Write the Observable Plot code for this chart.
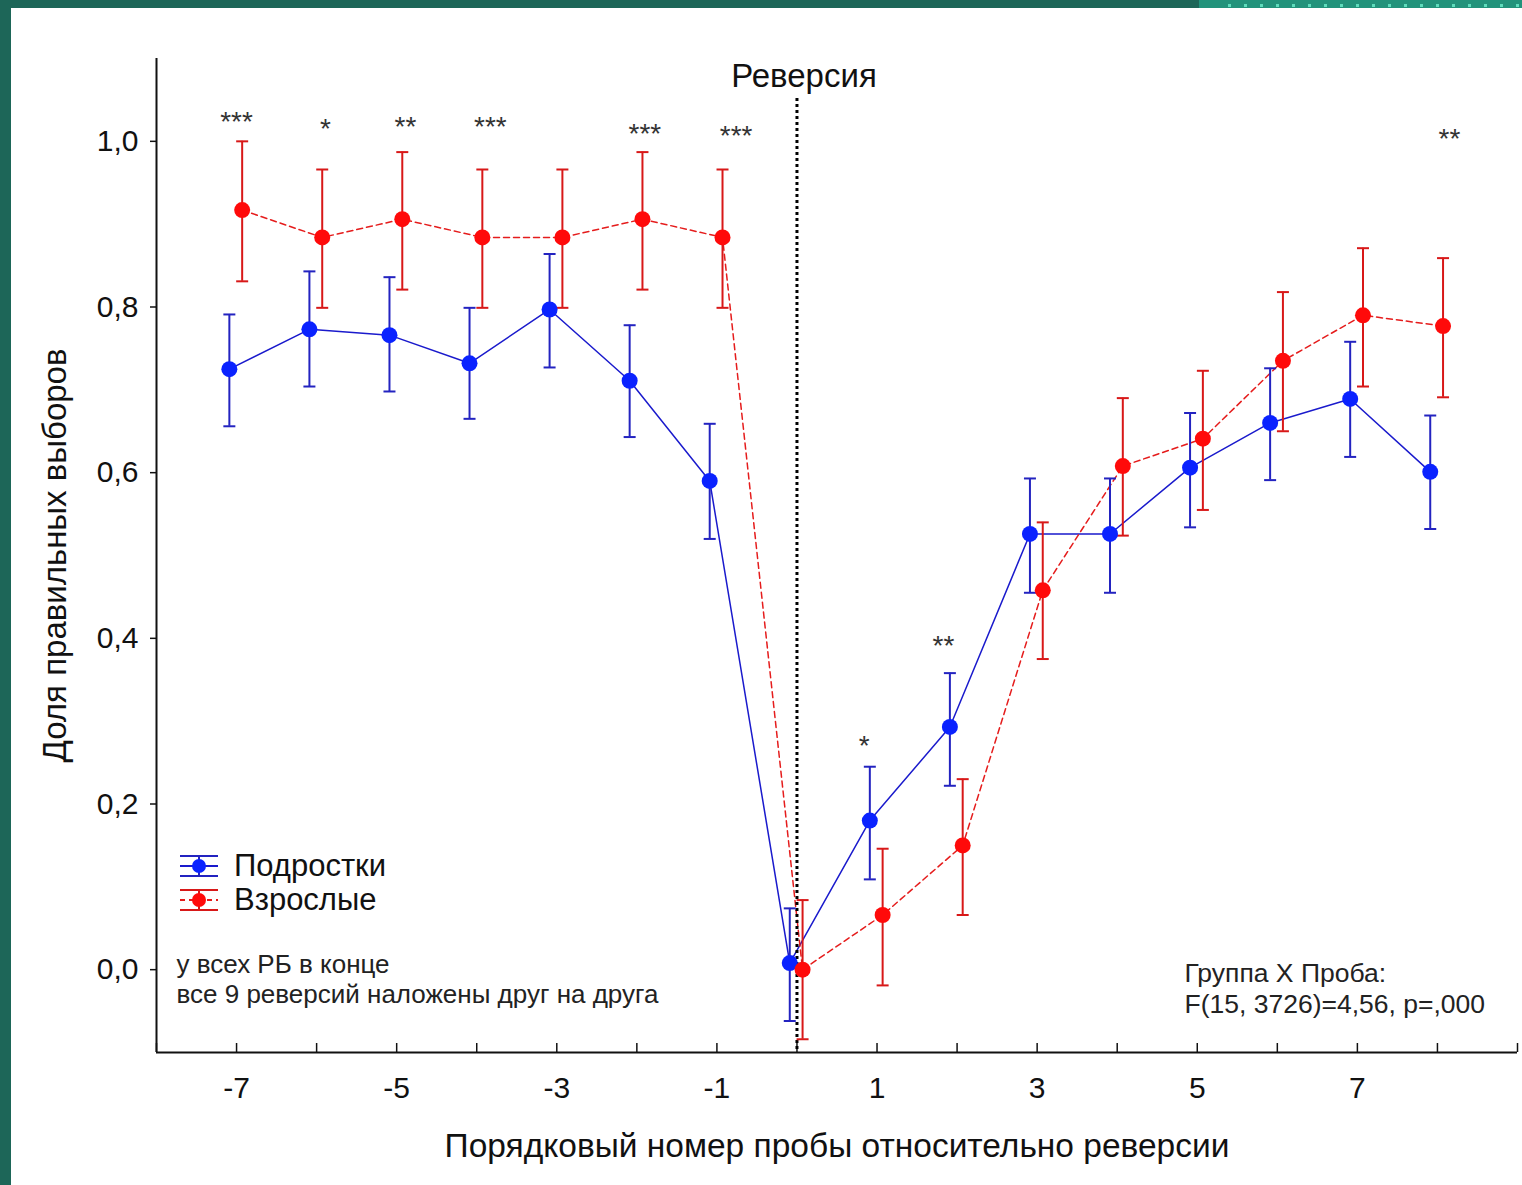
<!DOCTYPE html>
<html><head><meta charset="utf-8">
<script src="https://cdn.jsdelivr.net/npm/d3@7"></script>
<script src="https://cdn.jsdelivr.net/npm/@observablehq/plot@0.6"></script>
<style>
html,body{margin:0;padding:0;}
body{background:#1d6658;width:1522px;height:1185px;overflow:hidden;position:relative;font-family:"Liberation Sans",Arial,sans-serif;}
#panel{position:absolute;left:11px;top:8px;right:0;bottom:0;background:#fff;}
#strip{position:absolute;left:1199px;top:0;width:323px;height:8px;background:#22937b;}
#strip2{position:absolute;left:1228px;top:4px;width:294px;height:3px;
  background-image:linear-gradient(to right,#5fdcbc 3px,transparent 3px);background-size:16px 3px;background-repeat:repeat-x;}
#chart{position:absolute;left:0;top:0;}
#legend{position:absolute;left:0;top:0;pointer-events:none;}
</style>
</head><body>
<div id="panel"></div><div id="strip"></div><div id="strip2"></div>
<div id="chart"></div>
<svg id="legend" width="1522" height="1185"></svg>
<script>
// ---- data ----
const trials = [-7,-6,-5,-4,-3,-2,-1,0,1,2,3,4,5,6,7,8];
const teenMean = [0.725,0.773,0.766,0.732,0.797,0.711,0.590,0.008,0.180,0.293,0.526,0.526,0.606,0.660,0.689,0.601];
const teenLow  = [0.656,0.704,0.698,0.665,0.727,0.643,0.520,-0.062,0.109,0.222,0.455,0.455,0.534,0.591,0.619,0.532];
const teenHigh = [0.791,0.843,0.836,0.799,0.864,0.778,0.659,0.074,0.245,0.358,0.593,0.593,0.672,0.726,0.758,0.669];
const adultMean = [0.917,0.884,0.906,0.884,0.884,0.906,0.884,0.000,0.066,0.150,0.458,0.608,0.641,0.735,0.790,0.777];
const adultLow  = [0.831,0.799,0.821,0.799,0.799,0.821,0.799,-0.084,-0.019,0.066,0.375,0.524,0.555,0.650,0.704,0.691];
const adultHigh = [1.000,0.966,0.987,0.966,0.966,0.987,0.966,0.084,0.146,0.230,0.540,0.690,0.723,0.818,0.871,0.859];
const seriesNames = ["Подростки","Взрослые"];
const sigX = [-7,-5.89,-4.89,-3.83,-1.9,-0.76,0.84,1.83,8.15];
const sigY = [1.028,1.020,1.022,1.022,1.014,1.011,0.275,0.396,1.008];
const sigLabels = ["***","*","**","***","***","***","*","**","**"];
const xDomain = [-8, 9];
const yDomain = [-0.1, 1.1];
const xTickValues = [-8,-7,-6,-5,-4,-3,-2,-1,0,1,2,3,4,5,6,7,8,9];
const xTickLabels = [-7,-5,-3,-1,1,3,5,7];
const yTickValues = [0,0.2,0.4,0.6,0.8,1.0];
const xTitle = "Порядковый номер пробы относительно реверсии";
const yTitle = "Доля правильных выборов";
const reversalLabel = "Реверсия";
const noteLeft = "у всех РБ в конце\nвсе 9 реверсий наложены друг на друга";
const noteRight = "Группа X Проба:\nF(15, 3726)=4,56, p=,000";

// ---- styles ----
const FONT = '"Liberation Sans", Arial, sans-serif';
const blueDot = "#0a22ff", blueLine = "#1a1acc", blueErr = "#2323c0";
const redDot = "#ff0a0a", redLine = "#e51c1c", redErr = "#d81818";
const blueOffset = -0.09, redOffset = 0.07;
const W = 1522, H = 1185, mL = 156, mR = 5, mT = 58, mB = 133;
const frameH = H - mT - mB;

const teen = trials.map((t,i)=>({x:t+blueOffset, y:teenMean[i], lo:teenLow[i], hi:teenHigh[i]}));
const adult = trials.map((t,i)=>({x:t+redOffset, y:adultMean[i], lo:adultLow[i], hi:adultHigh[i]}));
const sig = sigX.map((x,i)=>({x, y:sigY[i], t:sigLabels[i]}));
const capSymbol = {draw(ctx, size){const r = Math.sqrt(size/Math.PI); ctx.moveTo(-r,0); ctx.lineTo(r,0);}};
const fmt = d => d3.format(".1f")(d).replace(".", ",");

const chart = Plot.plot({
  width: W, height: H,
  marginLeft: mL, marginRight: mR, marginTop: mT, marginBottom: mB,
  x: {domain: xDomain},
  y: {domain: yDomain},
  style: {fontFamily: FONT, background: "transparent", overflow: "visible", color: "#111"},
  marks: [
    Plot.axisY({ticks: yTickValues, tickFormat: fmt, tickSize: 6, tickPadding: 12, fontSize: 30, label: null, stroke: "#111", strokeWidth: 1.5}),
    Plot.axisX({ticks: xTickLabels, tickFormat: d => String(d), tickSize: 0, tickPadding: 24, fontSize: 30, label: null}),
    Plot.tickX(xTickValues, {x: d => d, insetTop: frameH - 9, stroke: "#111", strokeWidth: 1.5}),
    Plot.ruleX([xDomain[0]], {stroke: "#111", strokeWidth: 2}),
    Plot.ruleY([yDomain[0]], {stroke: "#111", strokeWidth: 2}),
    Plot.text([yTitle], {frameAnchor: "left", textAnchor: "middle", dx: -101, rotate: -90, fontSize: 33, fill: "#111"}),
    Plot.text([xTitle], {frameAnchor: "bottom", textAnchor: "middle", dy: 104, fontSize: 33.5, fill: "#111"}),
    Plot.text([reversalLabel], {x: 0, frameAnchor: "top", dx: 7, dy: 5, fontSize: 33, fill: "#111"}),
    Plot.text([noteLeft], {frameAnchor: "bottom-left", dx: 20, dy: -50, textAnchor: "start", lineAnchor: "bottom", fontSize: 26, lineHeight: 1.15, fill: "#222"}),
    Plot.text([noteRight], {frameAnchor: "bottom-right", dx: -333, dy: -40, textAnchor: "start", lineAnchor: "bottom", fontSize: 26.5, lineHeight: 1.15, fill: "#222"}),
    Plot.line(teen, {x: "x", y: "y", stroke: blueLine, strokeWidth: 1.5}),
    Plot.line(adult, {x: "x", y: "y", stroke: redLine, strokeWidth: 1.5, strokeDasharray: "6,4"}),
    Plot.ruleX([0], {insetTop: 40, stroke: "#000", strokeWidth: 3, strokeDasharray: "3,3"}),
    Plot.ruleX(teen, {x: "x", y1: "lo", y2: "hi", stroke: blueErr, strokeWidth: 2}),
    Plot.dot(teen, {x: "x", y: "lo", symbol: capSymbol, r: 6, stroke: blueErr, strokeWidth: 2, fill: "none"}),
    Plot.dot(teen, {x: "x", y: "hi", symbol: capSymbol, r: 6, stroke: blueErr, strokeWidth: 2, fill: "none"}),
    Plot.ruleX(adult, {x: "x", y1: "lo", y2: "hi", stroke: redErr, strokeWidth: 2}),
    Plot.dot(adult, {x: "x", y: "lo", symbol: capSymbol, r: 6, stroke: redErr, strokeWidth: 2, fill: "none"}),
    Plot.dot(adult, {x: "x", y: "hi", symbol: capSymbol, r: 6, stroke: redErr, strokeWidth: 2, fill: "none"}),
    Plot.dot(teen, {x: "x", y: "y", r: 8, fill: blueDot}),
    Plot.dot(adult, {x: "x", y: "y", r: 8, fill: redDot}),
    Plot.text(sig, {x: "x", y: "y", text: "t", fontSize: 28, fill: "#333", dy: 4})
  ]
});
document.getElementById("chart").appendChild(chart);

// ---- legend ----
const lg = d3.select("#legend");
const entries = [
  {name: seriesNames[0], cy: 866, dot: blueDot, line: blueLine, err: blueErr, dash: null},
  {name: seriesNames[1], cy: 900, dot: redDot, line: redLine, err: redErr, dash: "5,4"}
];
for (const e of entries) {
  const g = lg.append("g");
  g.append("line").attr("x1",180).attr("x2",218).attr("y1",e.cy).attr("y2",e.cy).attr("stroke",e.line).attr("stroke-width",2).attr("stroke-dasharray",e.dash);
  for (const dy of [-10,10]) g.append("line").attr("x1",180).attr("x2",218).attr("y1",e.cy+dy).attr("y2",e.cy+dy).attr("stroke",e.err).attr("stroke-width",2);
  g.append("line").attr("x1",199).attr("x2",199).attr("y1",e.cy-10).attr("y2",e.cy+10).attr("stroke",e.err).attr("stroke-width",2);
  g.append("circle").attr("cx",199).attr("cy",e.cy).attr("r",7).attr("fill",e.dot);
  g.append("text").attr("x",234).attr("y",e.cy+10).attr("font-size",31).attr("font-family",FONT).attr("fill","#111").text(e.name);
}
</script>
</body></html>
